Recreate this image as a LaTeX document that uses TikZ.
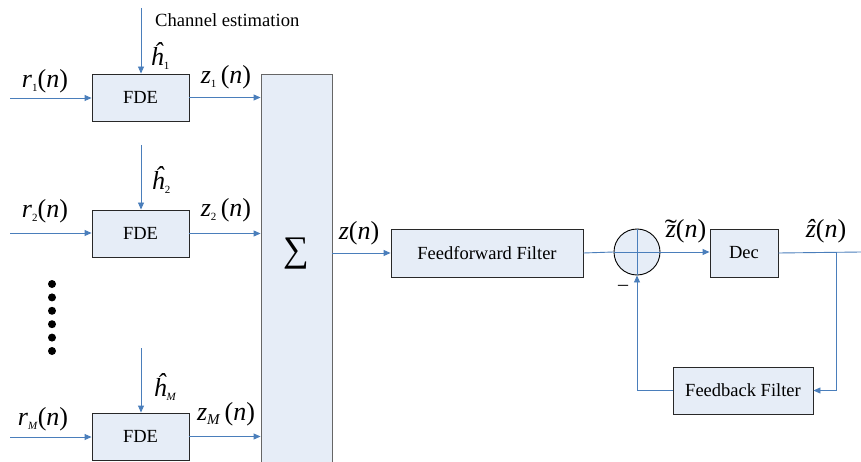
\documentclass[tikz,border=0pt]{standalone}
\usepackage{fontspec}
\usepackage{graphicx}
\setmainfont{Liberation Serif}
\usetikzlibrary{arrows.meta}
\definecolor{lnblue}{RGB}{74,126,187}
\definecolor{boxfill}{RGB}{230,237,247}
\definecolor{boxline}{RGB}{40,40,40}
\newcommand{\mf}{\fontsize{26}{26}\selectfont}
\newcommand{\sbu}[1]{\raisebox{-4pt}{\fontsize{11}{11}\selectfont #1}}
\newcommand{\sbi}[1]{\raisebox{-4pt}{\fontsize{11}{11}\selectfont\textit{#1}}}
\newcommand{\pn}{(\textit{n})}
\newcommand{\hatz}{\ooalign{\textit{z}\cr\hidewidth\textit{ˆ}\hidewidth\cr}}
\newcommand{\tilz}{\ooalign{\textit{z}\cr\hidewidth\scalebox{1.4}[1]{˜}\hidewidth\cr}}
\tikzset{
  blk/.style={draw=boxline, fill=boxfill, line width=0.9pt, inner sep=0pt,
    font=\fontsize{18.5}{18.5}\selectfont},
  sig/.style={inner sep=0pt, font=\mf},
  ln/.style={draw=lnblue, line width=0.9pt},
  arr/.style={ln, -{Triangle[length=7pt,width=6pt]}},
  dot/.style={circle, fill=black, inner sep=0pt, minimum size=8pt}
}
\begin{document}
\begin{tikzpicture}[x=1pt,y=-1pt]
\useasboundingbox (0,0) rectangle (861,462);
\clip (0,0) rectangle (861,462);
% FDE blocks
\node[blk, minimum width=97pt, minimum height=47pt] (fde1) at (140.5,97.5) {FDE};
\node[blk, minimum width=97pt, minimum height=47pt] (fde2) at (140.5,233.5) {FDE};
\node[blk, minimum width=97pt, minimum height=47pt] (fde3) at (140.5,436.5) {FDE};
% Sum box
\node[blk, draw=black!60, minimum width=71pt, minimum height=400pt] (sum) at (296.5,274) {};
\node[inner sep=0pt, font=\fontsize{36}{36}\selectfont] (sigma) at (296,254) {∑};
% Right chain
\node[blk, minimum width=192pt, minimum height=48pt] (ff) at (487,253) {Feedforward Filter};
\node[draw=black, fill=boxfill, line width=0.9pt, circle, minimum size=46pt, inner sep=0pt] (sub) at (637,252) {};
\node[blk, minimum width=68pt, minimum height=48pt] (dec) at (744,253) {Dec};
\node[blk, minimum width=140pt, minimum height=47pt] (fb) at (743,390.5) {Feedback Filter};
% coordinates
\coordinate (in1) at (10,98);
\coordinate (in2) at (10,233);
\coordinate (in3) at (10,437);
\coordinate (h1s) at (141,8);
\coordinate (h2s) at (141,145);
\coordinate (h3s) at (141,348);
\coordinate (out) at (861,252);
\coordinate (br) at (836,252);
% connectors
\draw[arr] (in1) -- (in1 -| fde1.west);
\draw[arr] (in2) -- (in2 -| fde2.west);
\draw[arr] (in3) -- (in3 -| fde3.west);
\draw[arr] (h1s) -- (h1s |- fde1.north);
\draw[arr] (h2s) -- (h2s |- fde2.north);
\draw[arr] (h3s) -- (h3s |- fde3.north);
\draw[arr] (fde1.east) -- (fde1.east -| sum.west);
\draw[arr] (fde2.east) -- (fde2.east -| sum.west);
\draw[arr] (fde3.east) -- (fde3.east -| sum.west);
\draw[arr] (sum.east |- ff.west) -- (ff.west);
\draw[ln] (ff.east) -- (sub.west);
\draw[ln] (sub.west) -- (sub.east);
\draw[ln] (sub.north) -- (sub.south);
\draw[arr] (sub.east) -- (sub.east -| dec.west);
\draw[ln] (dec.east) -- (out);
\draw[arr] (br) |- (fb.east);
\draw[arr] (fb.west) -| (sub.south);
% dots
\foreach \i in {0,...,5} { \node[dot] (d\i) at (52,284+13.4*\i) {}; }
% labels
\node[anchor=base west, inner sep=0pt, font=\fontsize{18.6}{18.6}\selectfont] (ce) at (155,27) {Channel estimation};
\node[sig] (lh1) at (160,56) {\textit{ĥ}\sbu{1}};
\node[sig] (lh2) at (161,180) {\textit{ĥ}\sbu{2}};
\node[sig] (lh3) at (165,387) {\textit{ĥ}\sbi{M}};
\node[sig] (lr1) at (45,81) {\textit{r}\sbu{1}\pn};
\node[sig] (lr2) at (45,211) {\textit{r}\sbu{2}\pn};
\node[sig] (lr3) at (43,419) {\textit{r}\sbi{M}\pn};
\node[sig] (lz1) at (226,77) {\textit{z}\sbu{1}\,\pn};
\node[sig] (lz2) at (226,210) {\textit{z}\sbu{2}\,\pn};
\node[sig] (lz3) at (226,414) {\textit{z}\raisebox{-4pt}{\fontsize{15}{15}\selectfont\textit{M}}\,\pn};
\node[sig] (lz) at (359,233) {\textit{z}\pn};
\node[sig] (lzt) at (686,231) {\tilz\pn};
\node[sig] (lzh) at (826,231) {\hatz\pn};
\node[inner sep=0pt, font=\fontsize{20}{20}\selectfont] (minus) at (623,288) {–};
\end{tikzpicture}
\end{document}
